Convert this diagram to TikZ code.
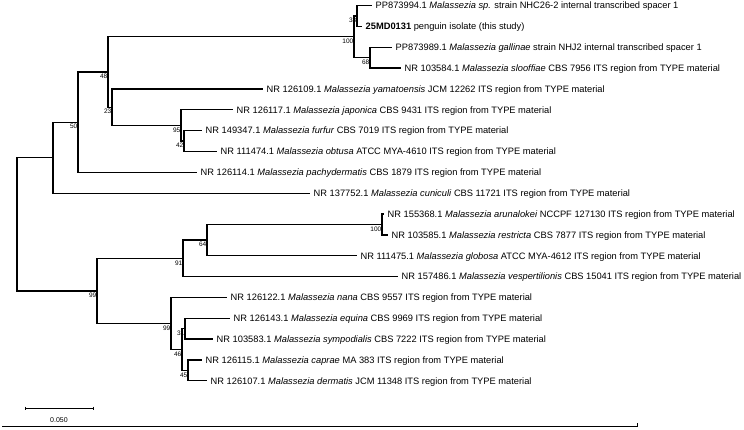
\documentclass[tikz,border=0pt]{standalone}
\usepackage{fontspec}
\setmainfont{Liberation Sans}
\begin{document}
\begin{tikzpicture}[x=1pt,y=-1pt,
  br/.style={line width=1.25pt},
  leaf/.style={anchor=base west, inner sep=0pt, xshift=3.5pt, yshift=-3.3pt, font=\fontsize{9.3}{11}\selectfont},
  bs/.style={anchor=north east, inner sep=0pt, xshift=-0.5pt, yshift=-2pt, font=\fontsize{6.5}{7.5}\selectfont}]
\useasboundingbox (0,0) rectangle (744,429);
% internal nodes
\coordinate (n38) at (357,16.0);
\coordinate (n68) at (370,57.6);
\coordinate (n100) at (354,36.8);
\coordinate (n42) at (184,141.0);
\coordinate (n95) at (181,125.4);
\coordinate (n23) at (112,107.2);
\coordinate (n48) at (108,72.0);
\coordinate (n50) at (78,122.2);
\coordinate (nA) at (53,157.7);
\coordinate (n100b) at (382,224.5);
\coordinate (n64) at (207,240.1);
\coordinate (n91) at (183,258.3);
\coordinate (n31) at (185,328.7);
\coordinate (n45) at (188,370.4);
\coordinate (n46) at (182,349.5);
\coordinate (n99b) at (171,323.5);
\coordinate (n99) at (97,290.9);
\coordinate (root) at (17,224.3);
% tips
\coordinate (t0) at (372,5.5);
\coordinate (t1) at (362,26.4);
\coordinate (t2) at (392,47.2);
\coordinate (t3) at (401,68.1);
\coordinate (t4) at (263,88.9);
\coordinate (t5) at (233,109.8);
\coordinate (t6) at (202,130.6);
\coordinate (t7) at (217,151.5);
\coordinate (t8) at (197,172.3);
\coordinate (t9) at (310,193.2);
\coordinate (t10) at (384,214.0);
\coordinate (t11) at (388,234.9);
\coordinate (t12) at (357,255.7);
\coordinate (t13) at (398,276.6);
\coordinate (t14) at (227,297.4);
\coordinate (t15) at (230,318.3);
\coordinate (t16) at (213,339.1);
\coordinate (t17) at (202,359.9);
\coordinate (t18) at (207,380.8);
% branches
\draw[br] (n38) |- (t0); \draw[br] (n38) |- (t1);
\draw[br] (n68) |- (t2); \draw[br] (n68) |- (t3);
\draw[br] (n100) |- (n38); \draw[br] (n100) |- (n68);
\draw[br] (n42) |- (t6); \draw[br] (n42) |- (t7);
\draw[br] (n95) |- (t5); \draw[br] (n95) |- (n42);
\draw[br] (n23) |- (t4); \draw[br] (n23) |- (n95);
\draw[br] (n48) |- (n100); \draw[br] (n48) |- (n23);
\draw[br] (n50) |- (n48); \draw[br] (n50) |- (t8);
\draw[br] (nA) |- (n50); \draw[br] (nA) |- (t9);
\draw[br] (n100b) |- (t10); \draw[br] (n100b) |- (t11);
\draw[br] (n64) |- (n100b); \draw[br] (n64) |- (t12);
\draw[br] (n91) |- (n64); \draw[br] (n91) |- (t13);
\draw[br] (n31) |- (t15); \draw[br] (n31) |- (t16);
\draw[br] (n45) |- (t17); \draw[br] (n45) |- (t18);
\draw[br] (n46) |- (n31); \draw[br] (n46) |- (n45);
\draw[br] (n99b) |- (t14); \draw[br] (n99b) |- (n46);
\draw[br] (n99) |- (n91); \draw[br] (n99) |- (n99b);
\draw[br] (root) |- (nA); \draw[br] (root) |- (n99);
% leaf labels
\node[leaf] (l0) at (t0) {PP873994.1 \textit{Malassezia sp.} strain NHC26-2 internal transcribed spacer 1};
\node[leaf] (l1) at (t1) {\textbf{25MD0131} penguin isolate (this study)};
\node[leaf] (l2) at (t2) {PP873989.1 \textit{Malassezia gallinae} strain NHJ2 internal transcribed spacer 1};
\node[leaf] (l3) at (t3) {NR 103584.1 \textit{Malassezia slooffiae} CBS 7956 ITS region from TYPE material};
\node[leaf] (l4) at (t4) {NR 126109.1 \textit{Malassezia yamatoensis} JCM 12262 ITS region from TYPE material};
\node[leaf] (l5) at (t5) {NR 126117.1 \textit{Malassezia japonica} CBS 9431 ITS region from TYPE material};
\node[leaf] (l6) at (t6) {NR 149347.1 \textit{Malassezia furfur} CBS 7019 ITS region from TYPE material};
\node[leaf] (l7) at (t7) {NR 111474.1 \textit{Malassezia obtusa} ATCC MYA-4610 ITS region from TYPE material};
\node[leaf] (l8) at (t8) {NR 126114.1 \textit{Malassezia pachydermatis} CBS 1879 ITS region from TYPE material};
\node[leaf] (l9) at (t9) {NR 137752.1 \textit{Malassezia cuniculi} CBS 11721 ITS region from TYPE material};
\node[leaf] (l10) at (t10) {NR 155368.1 \textit{Malassezia arunalokei} NCCPF 127130 ITS region from TYPE material};
\node[leaf] (l11) at (t11) {NR 103585.1 \textit{Malassezia restricta} CBS 7877 ITS region from TYPE material};
\node[leaf] (l12) at (t12) {NR 111475.1 \textit{Malassezia globosa} ATCC MYA-4612 ITS region from TYPE material};
\node[leaf] (l13) at (t13) {NR 157486.1 \textit{Malassezia vespertilionis} CBS 15041 ITS region from TYPE material};
\node[leaf] (l14) at (t14) {NR 126122.1 \textit{Malassezia nana} CBS 9557 ITS region from TYPE material};
\node[leaf] (l15) at (t15) {NR 126143.1 \textit{Malassezia equina} CBS 9969 ITS region from TYPE material};
\node[leaf] (l16) at (t16) {NR 103583.1 \textit{Malassezia sympodialis} CBS 7222 ITS region from TYPE material};
\node[leaf] (l17) at (t17) {NR 126115.1 \textit{Malassezia caprae} MA 383 ITS region from TYPE material};
\node[leaf] (l18) at (t18) {NR 126107.1 \textit{Malassezia dermatis} JCM 11348 ITS region from TYPE material};
% bootstrap values
\node[bs] (b38) at (n38) {38};
\node[bs] (b68) at (n68) {68};
\node[bs] (b100) at (n100) {100};
\node[bs] (b42) at (n42) {42};
\node[bs] (b95) at (n95) {95};
\node[bs] (b23) at (n23) {23};
\node[bs] (b48) at (n48) {48};
\node[bs] (b50) at (n50) {50};
\node[bs] (b100b) at (n100b) {100};
\node[bs] (b64) at (n64) {64};
\node[bs] (b91) at (n91) {91};
\node[bs] (b31) at (n31) {31};
\node[bs] (b45) at (n45) {45};
\node[bs] (b46) at (n46) {46};
\node[bs] (b99b) at (n99b) {99};
\node[bs] (b99) at (n99) {99};
% scale bar
\coordinate (sbL) at (25,408);
\coordinate (sbR) at (93,408);
\draw[line width=1pt] (sbL) -- (sbR);
\draw[line width=0.8pt] ([yshift=1.5pt]sbL) -- ([yshift=-1.5pt]sbL);
\draw[line width=0.8pt] ([yshift=1.5pt]sbR) -- ([yshift=-1.5pt]sbR);
\node[font=\fontsize{7}{8}\selectfont, inner sep=0pt] (sbt) at (59,420) {0.050};
% bottom rule
\coordinate (bl) at (2,426);
\coordinate (brr) at (637,426);
\draw[line width=0.8pt] (bl) -- (brr) -- ++(0,-3);
\end{tikzpicture}
\end{document}
